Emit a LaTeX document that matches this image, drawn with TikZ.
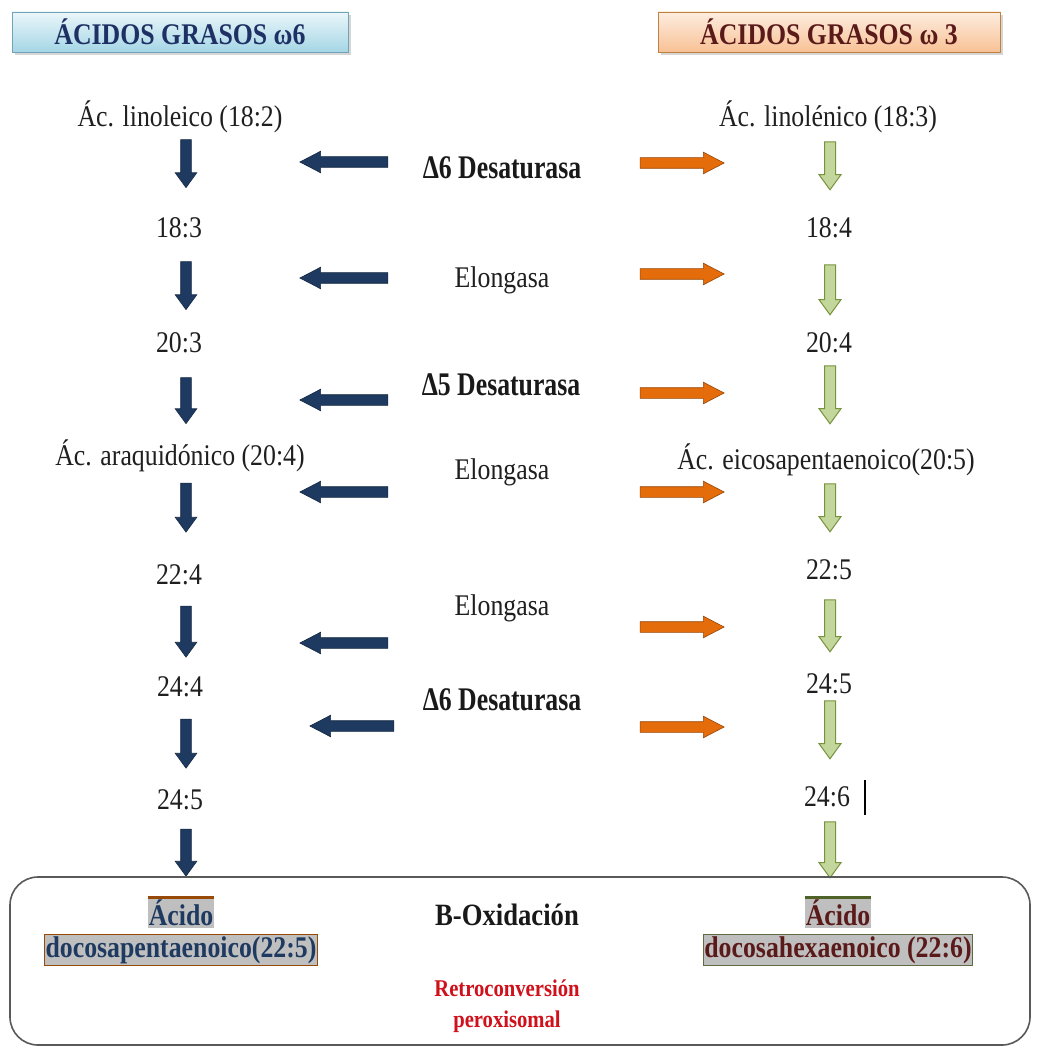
\documentclass[tikz,border=0pt]{standalone}
\usepackage{fontspec}
\setmainfont{Liberation Serif}[FakeStretch=0.86]
\newfontfamily\condfont{Liberation Serif}[FakeStretch=0.78]
\usetikzlibrary{shapes.arrows,shadows}
\definecolor{navy}{HTML}{1F3A60}
\definecolor{hdrnavy}{HTML}{1F3064}
\definecolor{hdrred}{HTML}{5B1A1A}
\definecolor{orng}{HTML}{E46C0A}
\definecolor{orngdk}{HTML}{984807}
\definecolor{grnfill}{HTML}{C3D69B}
\definecolor{grndk}{HTML}{77933C}
\definecolor{olive}{HTML}{4F6228}
\definecolor{retro}{HTML}{D0101A}
\definecolor{boxbord}{HTML}{595959}
\definecolor{hilite}{HTML}{BFBFBF}
\definecolor{hdrbluetop}{HTML}{EAF6FA}
\definecolor{hdrbluebot}{HTML}{A5D6E6}
\definecolor{hdrorgtop}{HTML}{FDEDE0}
\definecolor{hdrorgbot}{HTML}{F8C195}
\begin{document}
\begin{tikzpicture}[x=1pt,y=-1pt,
  txt/.style={font=\fontsize{30}{34}\selectfont, text=black!88, inner sep=0pt},
  enz/.style={font=\condfont\bfseries\fontsize{33}{36}\selectfont, text=black!90, inner sep=0pt},
  hdr/.style={font=\bfseries\fontsize{30}{33}\selectfont, minimum width=336pt, minimum height=40pt, inner sep=0pt, line width=0.6pt, drop shadow={shadow xshift=3pt, shadow yshift=-3pt, fill=gray!45, opacity=0.7}},
  arrbase/.style={single arrow, inner xsep=0pt, inner ysep=5pt, line width=0.6pt, single arrow head extend=5.5pt},
  downnavy/.style={arrbase, rotate=-90, fill=navy, draw=navy!70!black, single arrow tip angle=72, minimum height=#1},
  downgreen/.style={arrbase, rotate=-90, fill=grnfill, draw=grndk, line width=1pt, single arrow tip angle=72, minimum height=#1},
  leftnavy/.style={arrbase, rotate=180, fill=navy, draw=navy!70!black, single arrow tip angle=55, minimum height=#1},
  rightorng/.style={arrbase, fill=orng, draw=orngdk, single arrow tip angle=55, minimum height=#1},
  hl/.style={font=\bfseries\fontsize{30}{34}\selectfont, fill=hilite, inner xsep=1pt, inner ysep=2pt},
]
\useasboundingbox (0,0) rectangle (1036,1048);
\fill[white] (0,0) rectangle (1036,1048);

% headers
\node[hdr, draw=cyan!40!gray, top color=hdrbluetop, bottom color=hdrbluebot, text=hdrnavy] (h6) at (180,32) {ÁCIDOS GRASOS ω6};
\node[hdr, draw=orange!50!gray, top color=hdrorgtop, bottom color=hdrorgbot, minimum width=342pt, text=hdrred] (h3) at (829,32) {ÁCIDOS GRASOS ω 3};

% left column (omega 6)
\node[txt] (l1) at (180,117) {Ác. linoleico (18:2)};
\node[txt] (l2) at (179,228) {18:3};
\node[txt] (l3) at (179,343) {20:3};
\node[txt] (l4) at (180,456) {Ác. araquidónico (20:4)};
\node[txt] (l5) at (179,575) {22:4};
\node[txt] (l6) at (180,687) {24:4};
\node[txt] (l7) at (180,800) {24:5};

% right column (omega 3)
\node[txt] (r1) at (828,117) {Ác. linolénico (18:3)};
\node[txt] (r2) at (829,228) {18:4};
\node[txt] (r3) at (829,343) {20:4};
\node[txt] (r4) at (826,460) {Ác. eicosapentaenoico(20:5)};
\node[txt] (r5) at (829,570) {22:5};
\node[txt] (r6) at (829,684) {24:5};
\node[txt] (r7) at (827,797) {24:6};
\draw[line width=2.5pt, black] (865,780) -- (865,815);

% enzymes
\node[enz] (e1) at (502,168) {Δ6 Desaturasa};
\node[txt] (e2) at (502,280) {Elongasa};
\node[enz] (e3) at (501,385) {Δ5 Desaturasa};
\node[txt] (e4) at (502,472) {Elongasa};
\node[txt] (e5) at (502,608) {Elongasa};
\node[enz] (e6) at (502,700) {Δ6 Desaturasa};

% vertical arrows left
\node[downnavy=48pt] (dl1) at (186,160) {};
\node[downnavy=48pt] (dl2) at (186,282) {};
\node[downnavy=46pt] (dl3) at (186,397) {};
\node[downnavy=49pt] (dl4) at (186,504) {};
\node[downnavy=51pt] (dl5) at (186,628) {};
\node[downnavy=49pt] (dl6) at (186,740) {};
\node[downnavy=47pt] (dl7) at (186,849) {};

% vertical arrows right
\node[downgreen=48pt] (dr1) at (830,162) {};
\node[downgreen=50pt] (dr2) at (830,286) {};
\node[downgreen=58pt] (dr3) at (830,391) {};
\node[downgreen=48pt] (dr4) at (830,504) {};
\node[downgreen=52pt] (dr5) at (830,622) {};
\node[downgreen=58pt] (dr6) at (830,726) {};
\node[downgreen=56pt] (dr7) at (830,846) {};

% horizontal arrows
\node[leftnavy=88pt] (hl1) at (349,162) {};
\node[leftnavy=88pt] (hl2) at (349,278) {};
\node[leftnavy=88pt] (hl3) at (349,400) {};
\node[leftnavy=88pt] (hl4) at (349,492) {};
\node[leftnavy=88pt] (hl5) at (349,643) {};
\node[leftnavy=84pt] (hl6) at (357,726) {};
\node[rightorng=84pt] (hr1) at (677,163) {};
\node[rightorng=84pt] (hr2) at (677,274) {};
\node[rightorng=84pt] (hr3) at (677,393) {};
\node[rightorng=84pt] (hr4) at (677,492) {};
\node[rightorng=84pt] (hr5) at (677,627) {};
\node[rightorng=84pt] (hr6) at (677,727) {};

% bottom box
\draw[boxbord, line width=1.6pt, rounded corners=28pt] (10,877) rectangle (1030,1045);
\node[font=\bfseries\fontsize{31}{34}\selectfont, text=black!90, inner sep=0pt] (box) at (507,915) {B-Oxidación};
\node[font=\bfseries\fontsize{24}{28}\selectfont, text=retro, inner sep=0pt] (ret1) at (507,988) {Retroconversión};
\node[font=\bfseries\fontsize{24}{28}\selectfont, text=retro, inner sep=0pt] (ret2) at (507,1022) {peroxisomal};

% left product
\node[hl, text=navy, draw=orngdk, line width=1.2pt] (p6b) at (181,950) {docosapentaenoico(22:5)};
\node[hl, text=navy] (p6a) at (181,913) {Ácido};
\draw[orngdk, line width=3pt] (p6a.north west) -- (p6a.north east);

% right product
\node[hl, text=hdrred, draw=olive!70!gray, line width=1.2pt] (p3b) at (838,950) {docosahexaenoico (22:6)};
\node[hl, text=hdrred] (p3a) at (838,913) {Ácido};
\draw[olive, line width=3pt] (p3a.north west) -- (p3a.north east);
\end{tikzpicture}
\end{document}
